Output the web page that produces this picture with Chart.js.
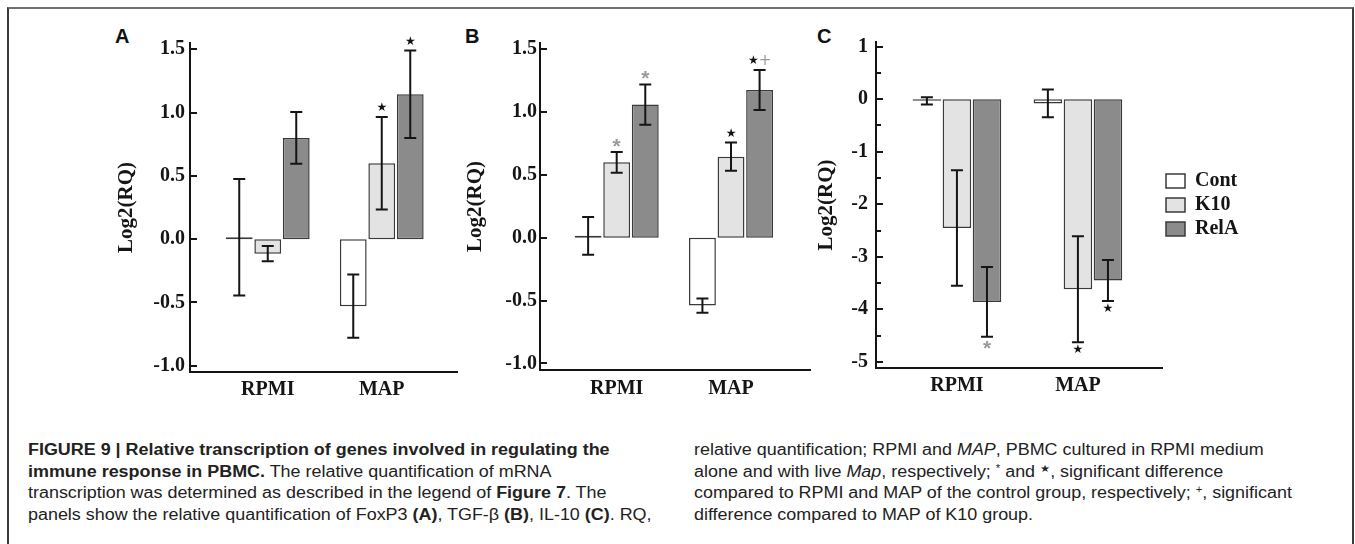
<!DOCTYPE html>
<html>
<head>
<meta charset="utf-8">
<script src="https://cdn.jsdelivr.net/npm/chart.js@4.4.0/dist/chart.umd.min.js"></script>
<style>
html, body { margin: 0; padding: 0; background: #fff; width: 1355px; height: 544px; overflow: hidden; }
#frame { position: absolute; left: 7px; top: 7px; width: 1343px; height: 600px;
  border-top: 2px solid #6f6f6f; border-left: 2px solid #3c3c3c; border-right: 2px solid #3c3c3c; }
canvas { position: absolute; top: 0; }
.letter { position: absolute; top: 26px; font: bold 20px/20px "Liberation Sans", Arial, sans-serif; color: #111; }
.cap { position: absolute; top: 439px; font: 16px/21.7px "Liberation Sans", Arial, sans-serif; color: #222;
  white-space: nowrap; transform: scaleX(1.12); transform-origin: 0 0; }
.cap sup { font-size: 10px; line-height: 0; vertical-align: 5px; }
</style>
</head>
<body>
<div id="frame"></div>
<div class="letter" style="left:115px">A</div>
<div class="letter" style="left:465px">B</div>
<div class="letter" style="left:817px">C</div>
<canvas id="cA" width="372" height="420" style="left:90px"></canvas>
<canvas id="cB" width="375" height="420" style="left:440px"></canvas>
<canvas id="cC" width="545" height="420" style="left:800px"></canvas>

<div class="cap" style="left:28px">
<b>FIGURE 9 | Relative transcription of genes involved in regulating the</b><br>
<b>immune response in PBMC.</b> The relative quantification of mRNA<br>
transcription was determined as described in the legend of <b>Figure 7</b>. The<br>
panels show the relative quantification of FoxP3 <b>(A)</b>, TGF-β <b>(B)</b>, IL-10 <b>(C)</b>. RQ,
</div>
<div class="cap" style="left:694px">
relative quantification; RPMI and <i>MAP</i>, PBMC cultured in RPMI medium<br>
alone and with live <i>Map</i>, respectively; <sup>*</sup> and <sup>★</sup>, significant difference<br>
compared to RPMI and MAP of the control group, respectively; <sup>+</sup>, significant<br>
difference compared to MAP of K10 group.
</div>

<script>
// ---------- data ----------
const categories = ['RPMI', 'MAP'];
const seriesNames = ['Cont', 'K10', 'RelA'];

// Panel A : FoxP3
const contA = [0.015, -0.53];
const k10A = [-0.115, 0.60];
const relaA = [0.80, 1.145];
const contErrA = [0.46, 0.25];
const k10ErrA = [0.06, 0.365];
const relaErrA = [0.205, 0.345];
const contSigA = ['', ''];
const k10SigA = ['', '★'];
const relaSigA = ['', '★'];
const yTicksA = [-1.0, -0.5, 0.0, 0.5, 1.0, 1.5];

// Panel B : TGF-beta
const contB = [0.015, -0.54];
const k10B = [0.60, 0.645];
const relaB = [1.06, 1.176];
const contErrB = [0.15, 0.057];
const k10ErrB = [0.083, 0.112];
const relaErrB = [0.16, 0.16];
const contSigB = ['', ''];
const k10SigB = ['*', '★'];
const relaSigB = ['*', '★+'];
const yTicksB = [-1.0, -0.5, 0.0, 0.5, 1.0, 1.5];

// Panel C : IL-10
const contC = [-0.03, -0.08];
const k10C = [-2.45, -3.62];
const relaC = [-3.86, -3.45];
const contErrC = [0.07, 0.265];
const k10ErrC = [1.10, 1.01];
const relaErrC = [0.665, 0.39];
const contSigC = ['', ''];
const k10SigC = ['', '★'];
const relaSigC = ['*', '★'];
const yTicksC = [-5, -4, -3, -2, -1, 0, 1];
const yMinorC = [-4.5, -3.5, -2.5, -1.5, -0.5, 0.5];

// ---------- styles ----------
const SERIF = '"Liberation Serif", "Times New Roman", serif';
const fills = ['#ffffff', '#e3e3e3', '#8b8b8b'];
const INK = '#151515';

Chart.defaults.font.family = SERIF;
Chart.defaults.font.weight = 'bold';
Chart.defaults.font.size = 20;
Chart.defaults.color = INK;

const markStyle = {
  '★': { font: '12px "DejaVu Sans"', color: '#111', dy: 0 },
  '*': { font: 'bold 21px "Liberation Sans"', color: '#9a9a9a', dy: 4 },
  '+': { font: '15px "DejaVu Sans"', color: '#9a9a9a', dy: 0 }
};

const errorBarPlugin = {
  id: 'errorBars',
  afterDatasetsDraw(chart) {
    const ctx = chart.ctx;
    const ys = chart.scales.y;
    chart.data.datasets.forEach((ds, i) => {
      const meta = chart.getDatasetMeta(i);
      meta.data.forEach((bar, j) => {
        const v = ds.data[j].y, e = ds.errors[j];
        const yTop = ys.getPixelForValue(v + e);
        const yBot = ys.getPixelForValue(v - e);
        ctx.save();
        ctx.strokeStyle = INK;
        ctx.lineWidth = 2;
        ctx.beginPath();
        ctx.moveTo(bar.x, yTop); ctx.lineTo(bar.x, yBot);
        ctx.moveTo(bar.x - 6, yTop); ctx.lineTo(bar.x + 6, yTop);
        ctx.moveTo(bar.x - 6, yBot); ctx.lineTo(bar.x + 6, yBot);
        ctx.stroke();
        const mark = ds.marks[j];
        if (mark) {
          const chars = Array.from(mark);
          const widths = chars.map(c => { ctx.font = markStyle[c].font; return ctx.measureText(c).width; });
          const total = widths.reduce((a, b) => a + b, 0);
          let x = bar.x - total / 2;
          const yc = v >= 0 ? yTop - 9 : yBot + 8;
          ctx.textBaseline = 'middle';
          ctx.textAlign = 'left';
          chars.forEach((c, k) => {
            const st = markStyle[c];
            ctx.font = st.font; ctx.fillStyle = st.color;
            ctx.fillText(c, x, yc + st.dy);
            x += widths[k];
          });
        }
        ctx.restore();
      });
    });
  }
};

const innerTickPlugin = {
  id: 'innerTicks',
  afterDraw(chart, args, opts) {
    const ctx = chart.ctx;
    const ys = chart.scales.y;
    const left = chart.chartArea.left;
    ctx.save();
    ctx.strokeStyle = INK;
    ctx.lineWidth = 2;
    ctx.beginPath();
    ys.ticks.forEach(t => {
      const y = Math.round(ys.getPixelForValue(t.value));
      ctx.moveTo(left, y); ctx.lineTo(left + 7, y);
    });
    (opts.minor || []).forEach(m => {
      const y = Math.round(ys.getPixelForValue(m));
      ctx.moveTo(left, y); ctx.lineTo(left + 5, y);
    });
    ctx.stroke();
    ctx.restore();
  }
};

function makePanel(id, p) {
  const vals = [p.cont, p.k10, p.rela];
  const errs = [p.contErr, p.k10Err, p.relaErr];
  const sigs = [p.contSig, p.k10Sig, p.relaSig];
  const datasets = seriesNames.map((name, i) => ({
    label: name,
    data: vals[i].map((y, j) => ({ x: j + 1, y: y })),
    errors: errs[i],
    marks: sigs[i],
    backgroundColor: fills[i],
    borderColor: '#3a3a3a',
    borderWidth: 1.5,
    borderSkipped: false,
    categoryPercentage: p.catPct,
    barPercentage: p.barPct
  }));
  return new Chart(document.getElementById(id), {
    type: 'bar',
    data: { datasets },
    plugins: [errorBarPlugin, innerTickPlugin],
    options: {
      responsive: false,
      animation: false,
      events: [],
      layout: { padding: p.pad },
      plugins: {
        tooltip: { enabled: false },
        innerTicks: { minor: p.minor },
        legend: p.legend ? {
          display: true,
          position: 'right',
          align: 'center',
          fullSize: false,
          maxWidth: 80,
          labels: {
            boxWidth: 19, boxHeight: 14, padding: 4, color: INK,
            font: { family: SERIF, size: 20, weight: 'bold' }
          }
        } : { display: false }
      },
      scales: {
        x: {
          type: 'linear',
          offset: false,
          min: p.xMin, max: p.xMax,
          grid: { display: false, drawTicks: false, offset: false },
          border: { display: true, color: INK, width: 2 },
          afterBuildTicks: s => { s.ticks = categories.map((c, i) => ({ value: i + 1 })); },
          afterFit: s => { s.height = p.xH; },
          ticks: { padding: p.xPad, callback: v => categories[v - 1], font: { size: 20, weight: 'bold' }, color: INK }
        },
        y: {
          min: p.yMin, max: p.yMax,
          grid: { display: false, drawTicks: false },
          border: { display: true, color: INK, width: 2 },
          afterBuildTicks: s => { s.ticks = p.yTicks.map(v => ({ value: v })); },
          afterFit: s => { s.width = p.yW; },
          ticks: { padding: p.yPad, callback: p.fmt, font: { size: 20, weight: 'bold' }, color: INK },
          title: { display: true, text: 'Log2(RQ)', font: { size: 21, weight: 'bold' }, color: INK,
                   padding: { top: p.titlePad, bottom: 0 } }
        }
      }
    }
  });
}

makePanel('cA', {
  cont: contA, k10: k10A, rela: relaA, contErr: contErrA, k10Err: k10ErrA, relaErr: relaErrA,
  contSig: contSigA, k10Sig: k10SigA, relaSig: relaSigA, yTicks: yTicksA,
  fmt: v => v.toFixed(1), yMin: -1.05, yMax: 1.55, xMin: 0.318, xMax: 2.66,
  catPct: 0.75, barPct: 0.94, pad: { left: 0, top: 43, right: 5, bottom: 0 },
  yW: 100, xH: 48, xPad: 6, yPad: 5, titlePad: 24, legend: false
});
makePanel('cB', {
  cont: contB, k10: k10B, rela: relaB, contErr: contErrB, k10Err: k10ErrB, relaErr: relaErrB,
  contSig: contSigB, k10Sig: k10SigB, relaSig: relaSigB, yTicks: yTicksB,
  fmt: v => v.toFixed(1), yMin: -1.053, yMax: 1.55, xMin: 0.329, xMax: 2.691,
  catPct: 0.75, barPct: 0.94, pad: { left: 0, top: 43, right: 5, bottom: 0 },
  yW: 100, xH: 50, xPad: 7, yPad: 3, titlePad: 23, legend: false
});
makePanel('cC', {
  cont: contC, k10: k10C, rela: relaC, contErr: contErrC, k10Err: k10ErrC, relaErr: relaErrC,
  contSig: contSigC, k10Sig: k10SigC, relaSig: relaSigC, yTicks: yTicksC, minor: yMinorC,
  fmt: v => String(v), yMin: -5.118, yMax: 1.09, xMin: 0.331, xMax: 2.695,
  catPct: 0.745, barPct: 0.95, pad: { left: 0, top: 42, right: 103, bottom: 0 },
  yW: 76, xH: 52, xPad: 6, yPad: 8, titlePad: 14, legend: true
});
</script>
</body>
</html>
